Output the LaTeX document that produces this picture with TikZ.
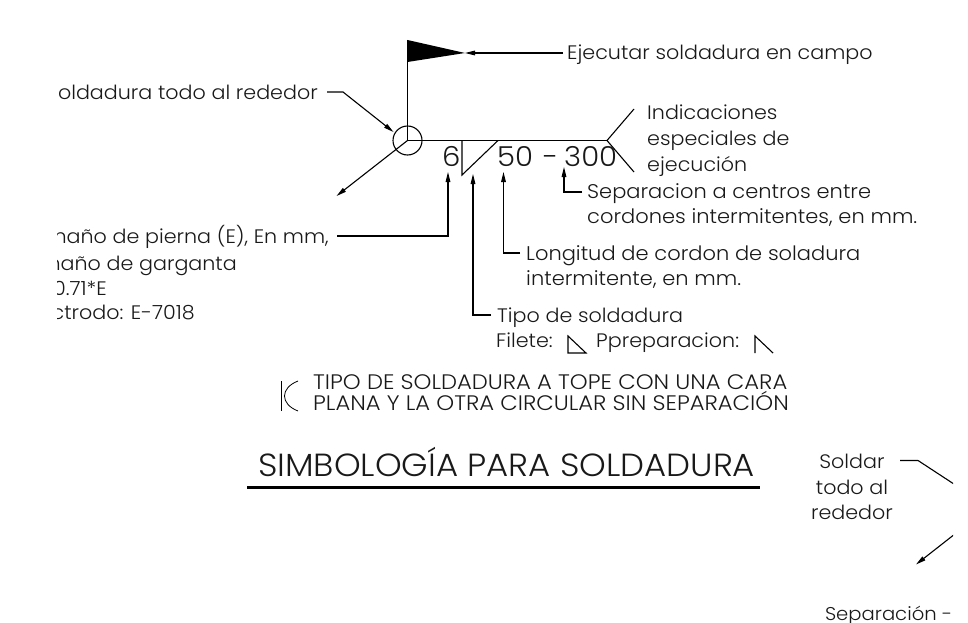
\documentclass[tikz,border=0pt]{standalone}
\usepackage{fontspec}
\setmainfont[FakeStretch=1.06]{Poppins Light}
\newfontfamily\capsfont[FakeStretch=1.08]{Poppins Light}
\usetikzlibrary{arrows.meta}
\tikzset{
  lbl/.style={inner sep=0pt,anchor=base west,font=\fontsize{19.5}{22}\selectfont,text=black!90},
  widelbl/.style={lbl,font=\fontsize{19.8}{22}\selectfont},
  capslbl/.style={inner sep=0pt,anchor=base west,font=\capsfont\fontsize{21}{22}\selectfont,text=black!90},
  num/.style={inner sep=0pt,anchor=base west,font=\fontsize{27.5}{30}\selectfont,text=black!90},
  ln/.style={line width=1.1pt,black},
  arr/.style={ln,-{Triangle[length=10pt,width=4.6pt]}},
}
\begin{document}
\begin{tikzpicture}[x=1pt,y=-1pt]
\useasboundingbox (0,0) rectangle (968,623);
\clip (57,0) rectangle (953,623);
% anchors
\coordinate (wc) at (407.5,140.5);
\coordinate (flagtop) at (407.5,40);
\coordinate (flagtip) at (465,53);
\coordinate (flagbot) at (407.5,62);
\coordinate (tailroot) at (607,140.5);
\coordinate (tailup) at (634,109);
\coordinate (taildown) at (634,172);
\coordinate (filtop) at (462,140.5);
\coordinate (filbot) at (462,175);
\coordinate (filright) at (498,140.5);
\coordinate (arrowend) at (336.5,196);
% flag and reference line
\fill[black] (flagtop) -- (flagtip) -- (flagbot) -- cycle;
\draw[ln] (wc) -- (flagtop);
\draw[ln] (wc) -- (tailroot);
\draw[ln] (tailup) -- (tailroot) -- (taildown);
\draw[ln] (filtop) -- (filbot) -- (filright);
\node[draw,ln,circle,minimum size=29pt,inner sep=0pt] (ring) at (wc) {};
\draw[arr] (wc) -- (arrowend);
% texts
\node[lbl] (t1) at (567,60) {Ejecutar soldadura en campo};
\node[lbl,anchor=base east] (t2) at (318,100) {Soldadura todo al rededor};
\node[lbl] (t3a) at (647,120) {Indicaciones};
\node[lbl] (t3b) at (647,145) {especiales de};
\node[lbl] (t3c) at (647,171) {ejecución};
\node[num] (six) at (442,166) {6};
\node[num] (n50) at (497,166) {50};
\node[num] (dash) at (543,166) {-};
\node[num] (n300) at (564,166) {300};
\node[widelbl] (t4a) at (587,198) {Separacion a centros entre};
\node[widelbl] (t4b) at (587,223) {cordones intermitentes, en mm.};
\node[widelbl] (t5a) at (526,260) {Longitud de cordon de soladura};
\node[widelbl] (t5b) at (526,285) {intermitente, en mm.};
\node[lbl] (t6a) at (497,322) {Tipo de soldadura};
\node[lbl] (t6b) at (496,347) {Filete:};
\node[lbl] (t6c) at (596,347) {Ppreparacion:};
\node[lbl,anchor=base east] (t7a) at (329,243) {Tamaño de pierna (E), En mm,};
\node[lbl,anchor=base east] (t7b) at (237,270) {Tamaño de garganta};
\node[lbl,anchor=base east] (t7c) at (107,295) {= 0.71*E};
\node[lbl,anchor=base east] (t7d) at (195,319) {Electrodo: E-7018};
\node[capslbl] (t8a) at (313,389) {TIPO DE SOLDADURA A TOPE CON UNA CARA};
\node[capslbl] (t8b) at (313,410) {PLANA Y LA OTRA CIRCULAR SIN SEPARACIÓN};
\node[inner sep=0pt,anchor=base west,font=\fontsize{32}{32}\selectfont,text=black!90] (title) at (258,476) {SIMBOLOGÍA PARA SOLDADURA};
\node[lbl,anchor=base] (s1) at (852,468) {Soldar};
\node[lbl,anchor=base] (s2) at (852,494) {todo al};
\node[lbl,anchor=base] (s3) at (852,519) {rededor};
\node[lbl,anchor=base east,font=\fontsize{18.5}{22}\selectfont] (s4) at (952.5,620) {Separación -};
% leaders
\coordinate (c1) at (563,53);
\draw[arr] (c1) -- (flagtip);
\coordinate (l2a) at (327,92); \coordinate (l2b) at (343,92); \coordinate (l2c) at (393.5,132);
\draw[arr] (l2a) -- (l2b) -- (l2c);
\coordinate (l3a) at (337,236); \coordinate (l3b) at (448,236); \coordinate (l3c) at (448,172);
\draw[arr] (l3a) -- (l3b) -- (l3c);
\coordinate (l4a) at (491,315); \coordinate (l4b) at (473,315); \coordinate (l4c) at (473,174);
\draw[arr] (l4a) -- (l4b) -- (l4c);
\coordinate (l5a) at (520,253); \coordinate (l5b) at (503.5,253); \coordinate (l5c) at (503.5,172);
\draw[arr] (l5a) -- (l5b) -- (l5c);
\coordinate (l6a) at (582,192); \coordinate (l6b) at (564,192); \coordinate (l6c) at (564,167);
\draw[arr] (l6a) -- (l6b) -- (l6c);
% small symbols
\draw[ln] (568,336) -- (568,353) -- (586,353) -- cycle;
\draw[ln] (755,353) -- (755,336) -- (773,353);
\draw[line width=.8pt] (281,381) -- (281,411);
\draw[line width=.8pt] (298,381) .. controls (280,388) and (280,404) .. (298,411);
\draw[line width=2.2pt] (247,487.5) -- (760,487.5);
% lower right
\coordinate (s1a) at (900,460.5); \coordinate (s1b) at (918,460.5); \coordinate (s1c) at (960,488);
\draw[ln] (s1a) -- (s1b) -- (s1c);
\coordinate (s2a) at (960,530); \coordinate (s2b) at (916,564.5);
\draw[arr] (s2a) -- (s2b);
\end{tikzpicture}
\end{document}
